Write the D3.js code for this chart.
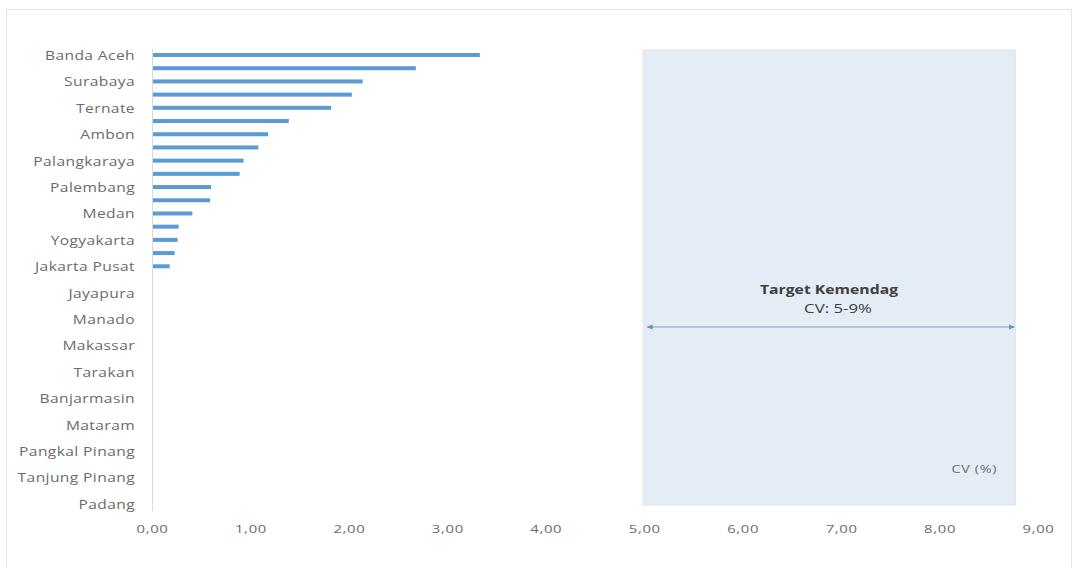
<!DOCTYPE html>
<html><head><meta charset="utf-8">
<script src="https://cdn.jsdelivr.net/npm/d3@7"></script>
<style>
body{margin:0;background:#fff;}
svg{display:block;}
text{font-family:"Open Sans",sans-serif;}
</style></head>
<body>
<svg id="c" width="1077" height="568"></svg>
<script>
// Categories (top to bottom); unlabeled rows shown as ""
const categories = ["Banda Aceh","","Surabaya","","Ternate","","Ambon","","Palangkaraya","",
  "Palembang","","Medan","","Yogyakarta","","Jakarta Pusat","","Jayapura","","Manado","",
  "Makassar","","Tarakan","","Banjarmasin","","Mataram","","Pangkal Pinang","","Tanjung Pinang","","Padang"];
const cvValues = [3.33,2.68,2.14,2.03,1.82,1.39,1.18,1.08,0.93,0.89,0.60,0.59,0.41,0.27,0.26,0.23,0.18,
  0,0,0,0,0,0,0,0,0,0,0,0,0,0,0,0,0,0];
const xTicks = [0,1,2,3,4,5,6,7,8,9];
const targetRange = [5, 8.77];
const targetLabel = ["Target Kemendag","CV: 5-9%"];
const axisTitle = "CV (%)";

const svg = d3.select("#c");
// outer frame
svg.append("rect").attr("x",6.5).attr("y",9.5).attr("width",1065).attr("height",570)
  .attr("fill","none").attr("stroke","#e3e3e3");

const x = d3.scaleLinear().domain([0,9]).range([152,1038]);
const y = d3.scaleBand().domain(d3.range(categories.length)).range([48.4,510.6]).padding(0);
const barH = 4;

// target shaded region
svg.append("rect").attr("x",x(targetRange[0])-1).attr("y",50)
  .attr("width",x(targetRange[1])-x(targetRange[0])+1).attr("height",455)
  .attr("fill","#e4ecf6").attr("stroke","#dde6f0");

// bars
svg.append("g").selectAll("rect").data(cvValues).join("rect")
  .attr("x",x(0)).attr("y",(d,i)=>y(i)+y.bandwidth()/2-barH/2)
  .attr("width",d=>x(d)-x(0)).attr("height",barH).attr("fill","#5b9bd5");

// y axis
const yAxis = d3.axisLeft(y).tickSize(0).tickPadding(0).tickFormat(i=>categories[i]);
const gy = svg.append("g").attr("transform",`translate(${x(0)},0)`).call(yAxis);
gy.select(".domain").attr("stroke","#d9d9d9");
gy.selectAll("text").attr("x",0).attr("transform","translate(-17,1) scale(1.3,1)")
  .attr("fill","#6b6b6b").style("font-size","12px").style("letter-spacing","0.3px");

// x axis
const fmt = d => d3.format(".2f")(d).replace(".",",");
const xAxis = d3.axisBottom(x).tickValues(xTicks).tickSize(0).tickPadding(0).tickFormat(fmt);
const gx = svg.append("g").attr("transform","translate(0,525)").call(xAxis);
gx.select(".domain").remove();
gx.selectAll("text").attr("transform","scale(1.35,1)")
  .attr("fill","#6b6b6b").style("font-size","11px").style("letter-spacing","0.5px");

// arrow
const defs = svg.append("defs");
defs.append("marker").attr("id","ah").attr("viewBox","0 0 10 10").attr("refX",9).attr("refY",5)
  .attr("markerWidth",5).attr("markerHeight",5).attr("orient","auto-start-reverse")
  .append("path").attr("d","M0,1L10,5L0,9z").attr("fill","#6f8fb3");
svg.append("line").attr("x1",x(targetRange[0])+3).attr("x2",x(targetRange[1])-1)
  .attr("y1",327).attr("y2",327).attr("stroke","#7f9fc3").attr("stroke-width",1.2)
  .attr("marker-start","url(#ah)").attr("marker-end","url(#ah)");

svg.append("text").attr("transform","translate(829,294) scale(1.37,1)").attr("text-anchor","middle")
  .attr("fill","#404040").style("font-size","11.5px").style("font-weight","bold").text(targetLabel[0]);
svg.append("text").attr("transform","translate(838,313) scale(1.4,1)").attr("text-anchor","middle")
  .attr("fill","#404040").style("font-size","12px").text(targetLabel[1]);
svg.append("text").attr("transform","translate(997,473) scale(1.3,1)").attr("text-anchor","end")
  .attr("fill","#6b6b6b").style("font-size","11px").style("letter-spacing","0.5px").text(axisTitle);
</script>
</body></html>
